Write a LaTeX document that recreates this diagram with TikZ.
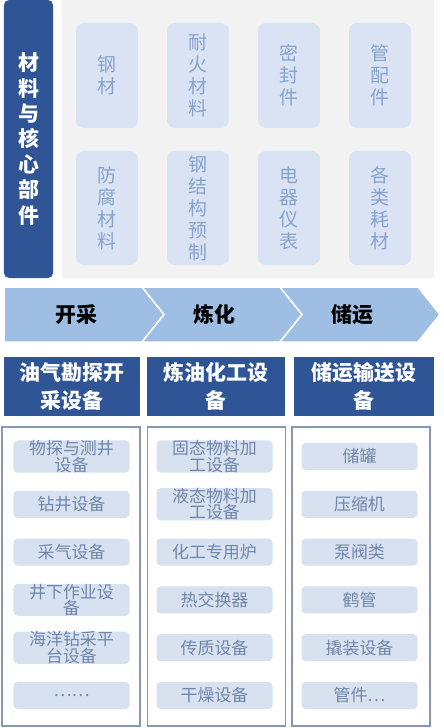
\documentclass[tikz,border=0pt]{standalone}
\usepackage{fontspec}
\setmainfont{Noto Sans CJK SC}
\usepackage{tikz}

\definecolor{darkblue}{HTML}{2F5597}
\definecolor{panelgray}{HTML}{F2F2F2}
\definecolor{cardblue}{HTML}{DAE3F3}
\definecolor{cardtext}{HTML}{86A3CC}
\definecolor{chevblue}{HTML}{9FBEE3}
\definecolor{framegray}{HTML}{8499B0}
\definecolor{itemblue}{HTML}{D8E1EF}
\definecolor{itemtext}{HTML}{6F87AA}

\begin{document}
\begin{tikzpicture}[x=1bp,y=-1bp,
    leftbar/.style={fill=darkblue,rounded corners=5bp,minimum width=49bp,minimum height=278bp,
        inner sep=0pt,align=center,text=white,font=\fontsize{21}{25.5}\selectfont\bfseries},
    card/.style={fill=cardblue,rounded corners=8bp,minimum width=62bp,inner sep=0pt,
        align=center,text=cardtext,font=\fontsize{19}{22}\selectfont},
    stagetext/.style={font=\fontsize{21}{24}\selectfont\bfseries,text=black},
    header/.style={fill=darkblue,minimum height=59bp,inner sep=0pt,align=center,
        text=white,font=\fontsize{21}{28}\selectfont\bfseries},
    column/.style={draw=framegray,line width=1.2bp,fill=white,minimum width=138bp,minimum height=299bp,inner sep=0pt},
    item/.style={fill=itemblue,rounded corners=4bp,minimum width=116bp,minimum height=27bp,inner sep=0pt,
        align=center,text=itemtext,font=\fontsize{17}{16.5}\selectfont}]

    \useasboundingbox (0,0) rectangle (444,728);

    % materials and core parts
    \fill[panelgray] (62,0) rectangle (434,278);
    \node[leftbar] (core) at (28.5,139) {材\\料\\与\\核\\心\\部\\件};
    \foreach \t [count=\i] in {{钢\\材},{耐\\火\\材\\料},{密\\封\\件},{管\\配\\件}}{
        \node[card,minimum height=105bp] (cardA-\i) at ({107+91*(\i-1)},75.5) {\t};
    }
    \foreach \t [count=\i] in {{防\\腐\\材\\料},{钢\\结\\构\\预\\制},{电\\器\\仪\\表},{各\\类\\耗\\材}}{
        \node[card,minimum height=114bp] (cardB-\i) at ({107+91*(\i-1)},208) {\t};
    }

    % stages
    \foreach \l/\n/\t [count=\i] in {4/0/开采,142/22/炼化,280/22/储运}{
        \fill[chevblue,draw=white,line width=1.5bp] (\l,287) -- ++(138,0) -- ++(22,27.5)
            -- ++(-22,27.5) -- ++(-138,0) -- ++(\n,-27.5) -- cycle;
        \node[stagetext] (stage-\i) at ({\l+72},314.5) {\t};
    }

    % equipment
    \foreach \x/\w/\t [count=\i] in {72/136/{油气勘探开\\采设备},216/138/{炼油化工设\\备},364/140/{储运输送设\\备}}{
        \node[header,minimum width=\w bp] (head-\i) at (\x,386.5) {\t};
    }
    \foreach \x [count=\i] in {71,216.5,361}{
        \node[column] (col-\i) at (\x,576.5) {};
    }
    \foreach \t [count=\r] in {{物探与测井\\设备},钻井设备,采气设备,{井下作业设\\备},{海洋钻采平\\台设备},{……}}{
        \node[item] (itemA-\r) at (71.5,{456.5+47.8*(\r-1)}) {\t};
    }
    \foreach \t [count=\r] in {{固态物料加\\工设备},{液态物料加\\工设备},化工专用炉,热交换器,传质设备,干燥设备}{
        \node[item] (itemB-\r) at (214.5,{456.5+47.8*(\r-1)}) {\t};
    }
    \foreach \t [count=\r] in {储罐,压缩机,泵阀类,鹤管,撬装设备,{管件…}}{
        \node[item] (itemC-\r) at (359.5,{456.5+47.8*(\r-1)}) {\t};
    }

\end{tikzpicture}
\end{document}
